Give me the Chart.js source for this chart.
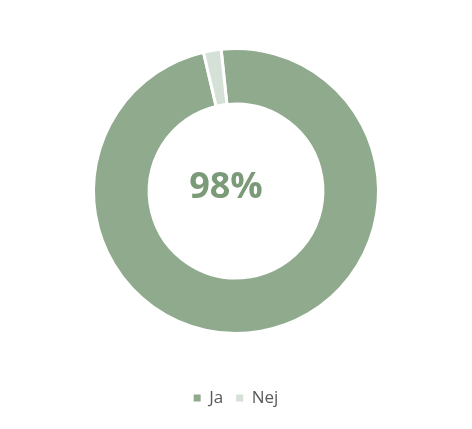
<!DOCTYPE html>
<html>
<head>
<meta charset="utf-8">
<script src="https://cdn.jsdelivr.net/npm/chart.js@4/dist/chart.umd.min.js"></script>
<style>
  html, body { margin: 0; padding: 0; background: #ffffff; }
  #answers { display: block; }
</style>
</head>
<body>
<canvas id="answers" width="472" height="429"></canvas>
<script>
const answerLabels = ["Ja", "Nej"];
const answerValues = [98, 2];
const centerLabel = "98%";

const sliceColors = ["#8faa8c", "#d5e0d7"];

// writes the percentage in the hole of the doughnut
const centerTextPlugin = {
  id: "centerText",
  afterDraw(chart) {
    const { ctx, chartArea } = chart;
    const meta = chart.getDatasetMeta(0);
    const arc = meta.data[0];
    const cx = arc ? arc.x : (chartArea.left + chartArea.right) / 2;
    const cy = arc ? arc.y : (chartArea.top + chartArea.bottom) / 2;
    ctx.save();
    ctx.font = "bold 36px 'Open Sans'";
    ctx.fillStyle = "#7b9a77";
    ctx.textAlign = "center";
    ctx.textBaseline = "middle";
    ctx.fillText(centerLabel, cx - 10, cy - 3);
    ctx.restore();
  },
};

const answersChart = new Chart(document.getElementById("answers"), {
  type: "doughnut",
  data: {
    labels: answerLabels,
    datasets: [
      {
        data: answerValues,
        backgroundColor: sliceColors,
        borderColor: "#ffffff",
        borderWidth: 3,
      },
    ],
  },
  options: {
    responsive: false,
    animation: false,
    cutout: "61%",
    rotation: -6,
    layout: {
      padding: { top: 5.5, bottom: 12.5, left: 92, right: 92 },
    },
    plugins: {
      tooltip: { enabled: false },
      legend: {
        position: "bottom",
        labels: {
          boxWidth: 7,
          boxHeight: 7,
          padding: 13,
          color: "#595959",
          font: { family: "'Open Sans'", size: 17 },
          generateLabels(chart) {
            const items = Chart.overrides.doughnut.plugins.legend.labels.generateLabels(chart);
            items.forEach((item) => {
              item.lineWidth = 0;
            });
            return items;
          },
        },
      },
    },
  },
  plugins: [centerTextPlugin],
});
</script>
</body>
</html>
